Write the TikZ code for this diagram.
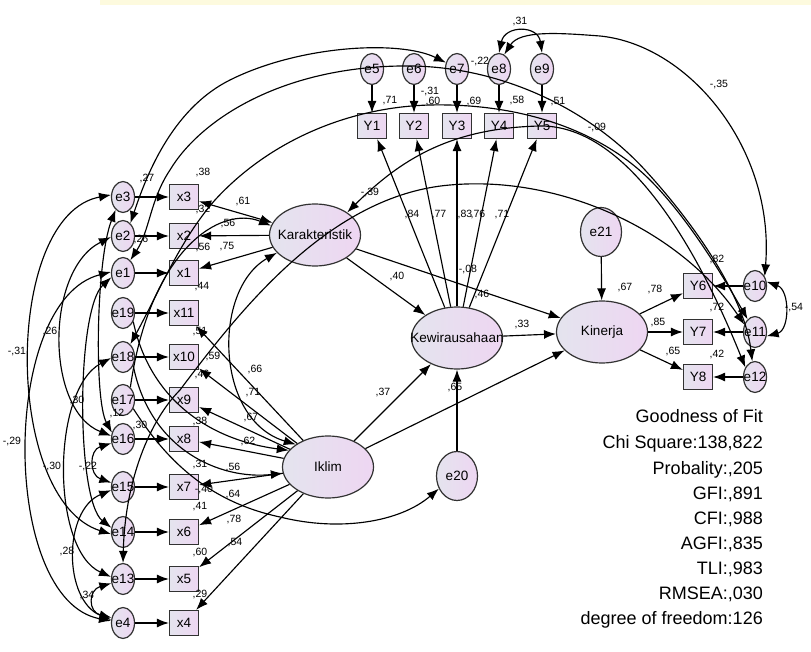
\documentclass[tikz,border=0pt]{standalone}
\usepackage{fontspec}
\setmainfont{Liberation Sans}
\usetikzlibrary{arrows.meta,shapes.geometric}
\definecolor{fillL}{RGB}{228,228,238}
\definecolor{fillR}{RGB}{238,214,242}
\definecolor{edgec}{RGB}{50,50,50}
\definecolor{wmark}{RGB}{253,250,222}
\newcommand{\mkz}[1]{\makebox[0pt]{#1}}
\begin{document}
\begin{tikzpicture}[x=1pt,y=-1pt,
  base/.style={draw=edgec, line width=1.2pt, left color=fillL, right color=fillR, inner sep=0pt},
  lat/.style={base, ellipse, minimum width=91pt, minimum height=62pt, font=\fontsize{13.5}{15}\selectfont},
  err/.style={base, ellipse, minimum width=23pt, minimum height=31pt, font=\fontsize{13.5}{15}\selectfont},
  bigerr/.style={base, ellipse, minimum width=41pt, minimum height=49pt, font=\fontsize{13.5}{15}\selectfont},
  obs/.style={base, rectangle, minimum width=29pt, minimum height=25pt, font=\fontsize{13.5}{15}\selectfont},
  lbl/.style={font=\fontsize{10.5}{12}\selectfont, inner sep=0pt},
  gof/.style={anchor=base east, font=\fontsize{18}{20}\selectfont, inner sep=0pt},
  arr/.style={-{Latex[length=12pt,width=9pt]}, line width=1.15pt},
  cov/.style={{Latex[length=12pt,width=9pt]}-{Latex[length=12pt,width=9pt]}, line width=1.15pt}]
\useasboundingbox (0,0) rectangle (811,652);
\fill[wmark] (100,0) rectangle (811,5);

% ---------- nodes ----------
\node[lat] (K) at (315,235) {\mkz{Karakteristik}};
\node[lat] (W) at (457,338) {\mkz{Kewirausahaan}};
\node[lat] (N) at (602,332) {\mkz{Kinerja}};
\node[lat] (I) at (328,467) {\mkz{Iklim}};
\node[bigerr] (e20) at (457,476) {\mkz{e20}};
\node[bigerr] (e21) at (601,232) {\mkz{e21}};

\foreach \e/\x/\yy in {e3/x3/197, e2/x2/236, e1/x1/273, e19/x11/313, e18/x10/357, e17/x9/400, e16/x8/439, e15/x7/487, e14/x6/532, e13/x5/579, e4/x4/623}{
  \node[err] (\e) at (123,\yy) {\mkz{\e}};
  \node[obs] (\x) at (184,\yy) {\x};
}
\foreach \e/\x/\xx in {e5/Y1/372, e6/Y2/414, e7/Y3/457, e8/Y4/499, e9/Y5/542}{
  \node[err] (\e) at (\xx,69) {\mkz{\e}};
  \node[obs] (\x) at (\xx,126) {\x};
}
\foreach \e/\x/\yy in {e10/Y6/286, e11/Y7/332, e12/Y8/377}{
  \node[err] (\e) at (755,\yy) {\mkz{\e}};
  \node[obs] (\x) at (698,\yy) {\x};
}

% ---------- measurement arrows ----------
\foreach \e/\x in {e3/x3, e2/x2, e1/x1, e19/x11, e18/x10, e17/x9, e16/x8, e15/x7, e14/x6, e13/x5, e4/x4, e5/Y1, e6/Y2, e7/Y3, e8/Y4, e9/Y5, e10/Y6, e11/Y7, e12/Y8}
  \draw[arr] (\e) -- (\x);

\draw[cov] (K) -- (x3);
\draw[arr] (K) -- (x2);
\draw[arr] (K) -- (x1);
\foreach \x in {x11,x10,x9,x8,x7,x6,x5,x4} \draw[arr] (I) -- (\x);
\foreach \x in {Y1,Y2,Y3,Y4,Y5} \draw[arr] (W) -- (\x);
\foreach \x in {Y6,Y7,Y8} \draw[arr] (N) -- (\x);

% ---------- structural ----------
\draw[arr] (K) -- (W);
\draw[arr] (K) -- (N);
\draw[arr] (I) -- (W);
\draw[arr] (I) -- (N);
\draw[arr] (W) -- (N);
\draw[arr] (e20) -- (W);
\draw[arr] (e21) -- (N);

% ---------- left covariances ----------
\draw[cov] (e3.170) .. controls (3,215) and (3,500) .. (e14.190);
\draw[cov] (e1.175) .. controls (0,300) and (0,600) .. (e4.170);
\draw[cov] (e2.185) .. controls (45,270) and (45,410) .. (e16.165);
\draw[cov] (e18.185) .. controls (51,390) and (51,550) .. (e13.170);
\draw[cov] (e1.200) .. controls (76,310) and (76,500) .. (e14.160);
\draw[cov] (e16.200) .. controls (89,450) and (89,475) .. (e15.160);
\draw[cov] (e15.195) .. controls (63,510) and (63,600) .. (e4.165);
\draw[cov] (e13.200) .. controls (88,590) and (88,612) .. (e4.155);
\draw[cov] (e3.240) .. controls (96,260) and (94,400) .. (e16.150);

% ---------- long curves ----------
\draw[cov] (e2.60) .. controls (145,180) and (170,110) .. (230,80) .. controls (300,45) and (400,40) .. (e7.150);
\draw[cov] (e1.60) .. controls (150,230) and (150,200) .. (170,170) .. controls (200,120) and (280,68) .. (400,66) .. controls (500,64) and (590,110) .. (645,170) .. controls (700,230) and (745,300) .. (e12.100);
\draw[cov] (e18.60) .. controls (160,290) and (180,240) .. (215,200) .. controls (270,140) and (350,107) .. (430,105) .. controls (520,103) and (600,130) .. (650,180) .. controls (690,220) and (725,280) .. (e11.120);
\draw[cov] (K.35) .. controls (400,160) and (450,128) .. (540,126) .. controls (620,125) and (690,230) .. (e12.135);
\draw[cov] (e13.north) .. controls (125,480) and (150,420) .. (180,390) .. controls (240,310) and (330,195) .. (450,185) .. controls (560,175) and (680,230) .. (e11.145);
\draw[arr] (e17.60) .. controls (150,250) and (220,205) .. (K.168);
\draw[cov] (I.145) .. controls (215,420) and (212,290) .. (K.205);
\draw[arr] (e19.-40) .. controls (150,400) and (210,440) .. (I.157);
\draw[arr] (e18.-40) .. controls (150,450) and (220,480) .. (I.188);
\draw[arr] (e17.-40) .. controls (160,450) and (200,500) .. (280,517) .. controls (340,532) and (400,522) .. (e20.215);
\draw[cov] (e8.north) .. controls (505,25) and (538,25) .. (e9.north);
\draw[cov] (e8.70) .. controls (520,30) and (560,33) .. (600,36) .. controls (690,45) and (775,150) .. (e10.45);
\draw[cov] (e10.20) .. controls (790,290) and (790,330) .. (e11.-20);

% ---------- labels ----------
\node[lbl] (t1) at (520,22) {,31};
\node[lbl] (t2) at (480,62) {-,22};
\node[lbl] (t3) at (430,92) {-,31};
\node[lbl] (t4) at (390,101) {,71};
\node[lbl] (t5) at (433,102) {,60};
\node[lbl] (t6) at (474,102) {,69};
\node[lbl] (t7) at (517,101) {,58};
\node[lbl] (t8) at (558,102) {,51};
\node[lbl] (t9) at (597,128) {-,09};
\node[lbl] (t10) at (719,85) {-,35};
\node[lbl] (r1) at (717,260) {,82};
\node[lbl] (r2) at (625,288) {,67};
\node[lbl] (r3) at (655,290) {,78};
\node[lbl] (r4) at (717,308) {,72};
\node[lbl] (r5) at (794,308) {-,54};
\node[lbl] (r6) at (658,323) {,85};
\node[lbl] (r7) at (673,352) {,65};
\node[lbl] (r8) at (717,355) {,42};
\node[lbl] (m1) at (243,202) {,61};
\node[lbl] (m2) at (370,193) {-,39};
\node[lbl] (m3) at (412,215) {,84};
\node[lbl] (m4) at (439,215) {,77};
\node[lbl] (m5) at (465,215) {,83};
\node[lbl] (m6) at (478,215) {,76};
\node[lbl] (m7) at (502,215) {,71};
\node[lbl] (m8) at (397,277) {,40};
\node[lbl] (m9) at (468,270) {-,08};
\node[lbl] (m10) at (482,295) {,46};
\node[lbl] (m11) at (522,325) {,33};
\node[lbl] (m12) at (255,370) {,66};
\node[lbl] (m13) at (253,393) {,71};
\node[lbl] (m14) at (251,418) {,67};
\node[lbl] (m15) at (248,442) {,62};
\node[lbl] (m16) at (233,468) {,56};
\node[lbl] (m17) at (233,495) {,64};
\node[lbl] (m18) at (234,520) {,78};
\node[lbl] (m19) at (235,543) {,54};
\node[lbl] (m20) at (383,393) {,37};
\node[lbl] (m21) at (455,388) {,65};
\node[lbl] (a1) at (147,179) {,27};
\node[lbl] (a2) at (203,173) {,38};
\node[lbl] (a3) at (203,210) {,32};
\node[lbl] (a4) at (228,224) {,56};
\node[lbl] (a5) at (141,240) {,26};
\node[lbl] (a6) at (203,248) {,56};
\node[lbl] (a7) at (227,247) {,75};
\node[lbl] (a8) at (202,287) {,44};
\node[lbl] (a9) at (50,332) {,26};
\node[lbl] (a10) at (17,352) {-,31};
\node[lbl] (a11) at (200,332) {,51};
\node[lbl] (a12) at (213,357) {,59};
\node[lbl] (a13) at (202,375) {,46};
\node[lbl] (a14) at (77,401) {,30};
\node[lbl] (a15) at (117,414) {,12};
\node[lbl] (a16) at (200,422) {,38};
\node[lbl] (a17) at (140,426) {,30};
\node[lbl] (a18) at (12,442) {-,29};
\node[lbl] (a19) at (52,467) {-,30};
\node[lbl] (a20) at (88,467) {-,22};
\node[lbl] (a21) at (200,465) {,31};
\node[lbl] (a22) at (204,490) {-,40};
\node[lbl] (a23) at (200,507) {,41};
\node[lbl] (a24) at (67,552) {,28};
\node[lbl] (a25) at (200,553) {,60};
\node[lbl] (a26) at (87,596) {,34};
\node[lbl] (a27) at (200,595) {,29};

% ---------- goodness of fit ----------
\node[gof] (g1) at (763,422) {Goodness of Fit};
\node[gof] (g2) at (763,448) {Chi Square:138,822};
\node[gof] (g3) at (763,474) {Probality:,205};
\node[gof] (g4) at (763,499) {GFI:,891};
\node[gof] (g5) at (763,524) {CFI:,988};
\node[gof] (g6) at (763,549) {AGFI:,835};
\node[gof] (g7) at (763,574) {TLI:,983};
\node[gof] (g8) at (763,599) {RMSEA:,030};
\node[gof] (g9) at (763,624) {degree of freedom:126};
\end{tikzpicture}
\end{document}
